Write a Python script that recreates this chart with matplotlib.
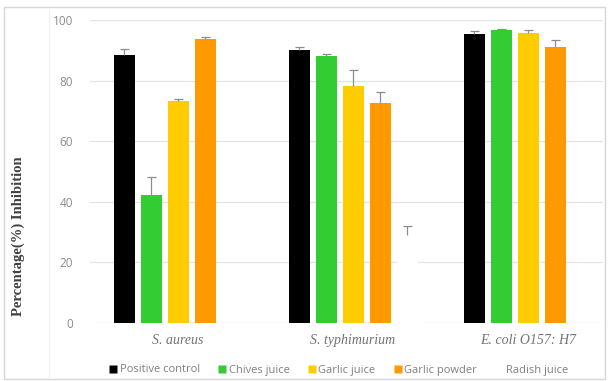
import matplotlib
matplotlib.use("Agg")
import matplotlib.pyplot as plt
import numpy as np
from matplotlib.lines import Line2D
from matplotlib.patches import Rectangle

categories = ["S. aureus", "S. typhimurium", "E. coli O157: H7"]
series = ["Positive control", "Chives juice", "Garlic juice", "Garlic powder", "Radish juice"]
positive_control = [88.3, 90.1, 95.5]
chives_juice = [42.1, 88.1, 96.6]
garlic_juice = [73.2, 78.2, 95.8]
garlic_powder = [93.6, 72.5, 91.1]
radish_juice = [0.0, 29.2, 0.0]
err_positive = [2.2, 1.0, 0.8]
err_chives = [6.0, 0.8, 0.5]
err_garlic = [0.6, 5.3, 1.0]
err_powder = [0.8, 3.7, 2.4]
err_radish = [0.0, 2.7, 0.0]
yticks = [0, 20, 40, 60, 80, 100]

values = [positive_control, chives_juice, garlic_juice, garlic_powder, radish_juice]
errors = [err_positive, err_chives, err_garlic, err_powder, err_radish]
colors = ["#000000", "#33cc33", "#ffcc00", "#ff9900", "#ffffff"]

W, H = 611, 381
fig = plt.figure(figsize=(W / 100, H / 100), dpi=100)
ax = fig.add_axes([90 / W, 1 - 323 / H, (603 - 90) / W, (323 - 20) / H])

x = np.arange(len(categories))
pitch = 27 / 175
width = 21 / 175
cap = 4.5 / 175
for j, (vals, errs, c) in enumerate(zip(values, errors, colors)):
    xs = x + (j - 2) * pitch
    ax.bar(xs, vals, width=width, color=c, edgecolor="none", zorder=3)
    e = np.array(errs)
    v = np.array(vals)
    m = e > 0
    ax.vlines(xs[m], v[m], v[m] + e[m], color="#8c8c8c", linewidth=0.9, zorder=4)
    ax.hlines(v[m] + e[m], xs[m] - cap, xs[m] + cap, color="#8c8c8c", linewidth=0.9, zorder=4)

ax.set_xlim((90 - 178) / 175, (603 - 178) / 175)
ax.set_ylim(0, 100)
ax.set_yticks(yticks)
ax.yaxis.grid(True, color="#e3e3e3", linewidth=0.9, zorder=0)
ax.set_axisbelow(True)
for s in ax.spines.values():
    s.set_visible(False)
ax.tick_params(axis="y", length=0, pad=12, labelsize=8.5, labelcolor="#8a8a8a")
for lab in ax.get_yticklabels():
    lab.set_family("Open Sans")
ax.set_xticks(x)
ax.set_xticklabels(categories, fontfamily="Liberation Serif", style="italic",
                   fontsize=10, color="#737373")
ax.tick_params(axis="x", length=0, pad=8)

fig.text(18 / W, 1 - 236 / H, "Percentage(%) Inhibition", rotation=90,
         ha="center", va="center", fontfamily="Liberation Serif",
         fontweight="bold", fontsize=10.5, color="#404040")

handles = [Line2D([], [], marker="s", linestyle="none", markersize=5.5,
                  markerfacecolor=c, markeredgecolor="none") for c in colors]
leg = fig.legend(handles, series, loc="center", bbox_to_anchor=(339 / W, 1 - 370 / H),
                 ncol=5, frameon=False, handlelength=0.6, handletextpad=0.3,
                 columnspacing=1.7, prop={"family": "Open Sans", "size": 8})
for t in leg.get_texts():
    t.set_color("#808080")

fig.patches.append(Rectangle((4 / W, 1 - 379 / H), 601 / W, 372 / H, transform=fig.transFigure,
                             fill=False, edgecolor="#d6d6d6", linewidth=1.0))
fig.lines.append(Line2D([49 / W, 49 / W], [1 - 378 / H, 1 - 9 / H], transform=fig.transFigure,
                        color="#f0f0f0", linewidth=0.8))

fig.savefig("out.png", dpi=100)
